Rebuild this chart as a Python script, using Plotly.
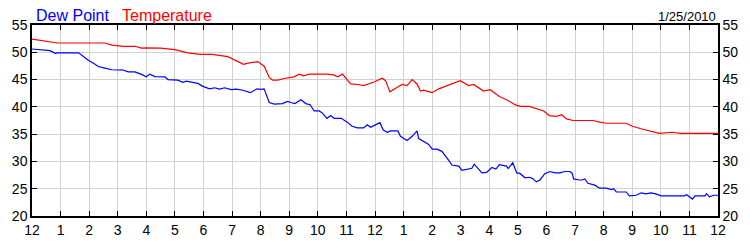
import plotly.graph_objects as go

# Hours since midnight (0..24) and readings
temp_hours = [0, 0.46, 0.9, 1.5, 2.0, 2.55, 2.8, 3.2, 3.6, 3.83, 4.0, 4.5, 5.0, 5.45, 5.9, 6.3,
              6.85, 7.1, 7.4, 7.6, 7.9, 8.13, 8.3, 8.42, 8.6, 8.82, 9.17, 9.35, 9.5, 9.7, 10.3,
              10.55, 10.7, 10.86, 11.15, 11.4, 11.6, 11.95, 12.25, 12.37, 12.52, 12.78, 12.95,
              13.12, 13.3, 13.47, 13.59, 13.7, 14.0, 14.23, 14.52, 14.98, 15.27, 15.45, 15.8,
              16.03, 16.35, 16.6, 16.9, 17.07, 17.4, 17.9, 18.1, 18.35, 18.53, 18.7, 18.93,
              19.63, 19.86, 20.1, 20.79, 21.0, 21.37, 21.95, 22.4, 22.7, 24.0]
temp_values = [52.4, 52.0, 51.7, 51.7, 51.7, 51.7, 51.3, 51.1, 51.1, 50.75, 50.8, 50.75, 50.5,
               49.9, 49.6, 49.6, 49.2, 48.6, 47.8, 48.05, 48.3, 47.4, 45.4, 44.9, 44.9, 45.2,
               45.5, 46.0, 45.7, 46.0, 46.0, 45.85, 45.5, 46.0, 44.2, 44.1, 43.9, 44.5, 45.25,
               44.8, 42.75, 43.6, 44.1, 43.9, 45.0, 44.2, 42.9, 43.05, 42.6, 43.3, 43.9, 44.8,
               43.9, 44.1, 42.9, 43.15, 41.9, 41.3, 40.4, 40.1, 40.1, 39.25, 38.4, 38.25, 38.55,
               37.8, 37.5, 37.5, 37.2, 37.0, 37.0, 36.45, 35.9, 35.15, 35.35, 35.15, 35.15]

dew_hours = [0, 0.46, 0.63, 0.81, 0.9, 1.63, 1.8, 1.98, 2.15, 2.32, 2.55, 2.79, 3.0, 3.15, 3.37,
             3.6, 3.83, 4.0, 4.12, 4.3, 4.65, 4.76, 5.1, 5.28, 5.4, 5.6, 5.8, 5.98, 6.21, 6.39,
             6.56, 6.74, 6.97, 7.15, 7.38, 7.64, 7.75, 7.87, 8.0, 8.12, 8.3, 8.48, 8.76, 8.94,
             9.05, 9.2, 9.41, 9.58, 9.73, 9.87, 10.05, 10.16, 10.32, 10.45, 10.57, 10.82,
             11.03, 11.2, 11.38, 11.6, 11.73, 11.85, 12.0, 12.17, 12.29, 12.43, 12.55, 12.8,
             12.89, 13.12, 13.3, 13.47, 13.53, 13.7, 13.88, 14.0, 14.17, 14.34, 14.46, 14.58,
             14.69, 14.93, 15.04, 15.2, 15.39, 15.47, 15.6, 15.74, 15.9, 16.09, 16.23, 16.35,
             16.6, 16.66, 16.82, 16.96, 17.07, 17.25, 17.4, 17.5, 17.65, 17.77, 17.94, 18.12,
             18.3, 18.47, 18.64, 18.82, 18.9, 18.95, 19.16, 19.25, 19.34, 19.45, 19.69, 19.86,
             20.09, 20.27, 20.35, 20.44, 20.79, 20.9, 21.14, 21.31, 21.48, 21.65, 21.82, 22.01,
             22.82, 22.9, 23.11, 23.2, 23.55, 23.6, 23.7, 23.85, 24.0]
dew_values = [50.6, 50.4, 50.3, 49.8, 49.9, 49.9, 49.2, 48.5, 48.0, 47.4, 47.1, 46.8, 46.75,
              46.8, 46.4, 46.4, 45.95, 45.5, 46.0, 45.55, 45.5, 45.0, 44.9, 44.5, 44.7, 44.5,
              44.3, 43.75, 43.3, 43.5, 43.25, 43.5, 43.15, 43.25, 43.05, 42.6, 42.9, 43.3,
              43.2, 43.3, 40.8, 40.5, 40.6, 41.0, 40.8, 40.6, 41.3, 40.6, 40.4, 39.25, 39.25,
              38.85, 37.9, 38.4, 37.9, 37.9, 37.2, 36.45, 36.15, 36.15, 36.7, 36.25, 36.65,
              37.1, 35.75, 35.35, 35.6, 35.6, 34.6, 33.85, 34.6, 35.6, 34.2, 33.7, 33.1, 32.25,
              32.25, 31.85, 31.1, 30.2, 29.35, 29.15, 28.35, 28.5, 28.75, 29.5, 28.75, 27.9,
              28.0, 28.9, 28.6, 29.4, 29.15, 28.7, 29.75, 27.9, 27.8, 27.0, 27.1, 26.9, 26.25,
              26.6, 27.75, 28.15, 27.9, 27.9, 28.15, 28.15, 27.8, 26.8, 26.6, 26.6, 26.8, 26.0,
              25.65, 25.1, 25.1, 24.85, 25.0, 24.4, 24.4, 23.7, 23.8, 24.25, 24.05, 24.25,
              24.05, 23.7, 23.7, 23.9, 23.1, 23.7, 23.7, 24.1, 23.5, 23.8, 23.8]

x_tick_vals = list(range(0, 25))
x_tick_text = ["12", "1", "2", "3", "4", "5", "6", "7", "8", "9", "10", "11",
               "12", "1", "2", "3", "4", "5", "6", "7", "8", "9", "10", "11", "12"]
y_tick_vals = [20, 25, 30, 35, 40, 45, 50, 55]
date_label = "1/25/2010"

FONT = "Liberation Sans, Arial, sans-serif"

fig = go.Figure()
fig.add_trace(go.Scatter(x=temp_hours, y=temp_values, mode="lines", name="Temperature",
                         line=dict(color="#ff0000", width=1.2), showlegend=False))
fig.add_trace(go.Scatter(x=dew_hours, y=dew_values, mode="lines", name="Dew Point",
                         line=dict(color="#0000ff", width=1.2), showlegend=False))
# invisible trace to anchor the right-hand axis
fig.add_trace(go.Scatter(x=[0], y=[20], yaxis="y2", mode="markers",
                         marker=dict(opacity=0), showlegend=False, hoverinfo="skip"))

axis_font = dict(family=FONT, size=14, color="#000000")

fig.update_layout(
    width=750, height=250,
    margin=dict(l=30, r=30, t=25, b=25),
    paper_bgcolor="white", plot_bgcolor="white",
    font=dict(family=FONT, size=14, color="#000000"),
    xaxis=dict(range=[0, 24], tickvals=x_tick_vals, ticktext=x_tick_text,
               showgrid=True, gridcolor="#d0d0d0", gridwidth=1,
               showline=True, linecolor="#000000", linewidth=1.5, mirror="ticks",
               ticks="inside", ticklen=5, tickcolor="#000000",
               tickfont=axis_font, zeroline=False),
    yaxis=dict(range=[20, 55], tickvals=y_tick_vals,
               showgrid=True, gridcolor="#d0d0d0", gridwidth=1,
               showline=True, linecolor="#000000", linewidth=1.5,
               ticks="inside", ticklen=5, tickcolor="#000000",
               tickfont=axis_font, zeroline=False),
    yaxis2=dict(range=[20, 55], tickvals=y_tick_vals, overlaying="y", side="right",
                showgrid=False, showline=True, linecolor="#000000", linewidth=1.5,
                ticks="inside", ticklen=5, tickcolor="#000000",
                tickfont=axis_font, zeroline=False),
    annotations=[
        dict(text="Dew Point", xref="paper", yref="paper", x=0.0, y=1.0, yshift=-1,
             xanchor="left", yanchor="bottom", showarrow=False, xshift=2,
             font=dict(family=FONT, size=16, color="#0000ff")),
        dict(text="Temperature", xref="paper", yref="paper", x=0.0, y=1.0, yshift=-1,
             xanchor="left", yanchor="bottom", showarrow=False, xshift=88,
             font=dict(family=FONT, size=16, color="#ff0000")),
        dict(text=date_label, xref="paper", yref="paper", x=1.0, y=1.0, yshift=-1,
             xanchor="right", yanchor="bottom", showarrow=False,
             font=dict(family=FONT, size=13, color="#000000")),
    ],
)

fig.write_html("out.html")
